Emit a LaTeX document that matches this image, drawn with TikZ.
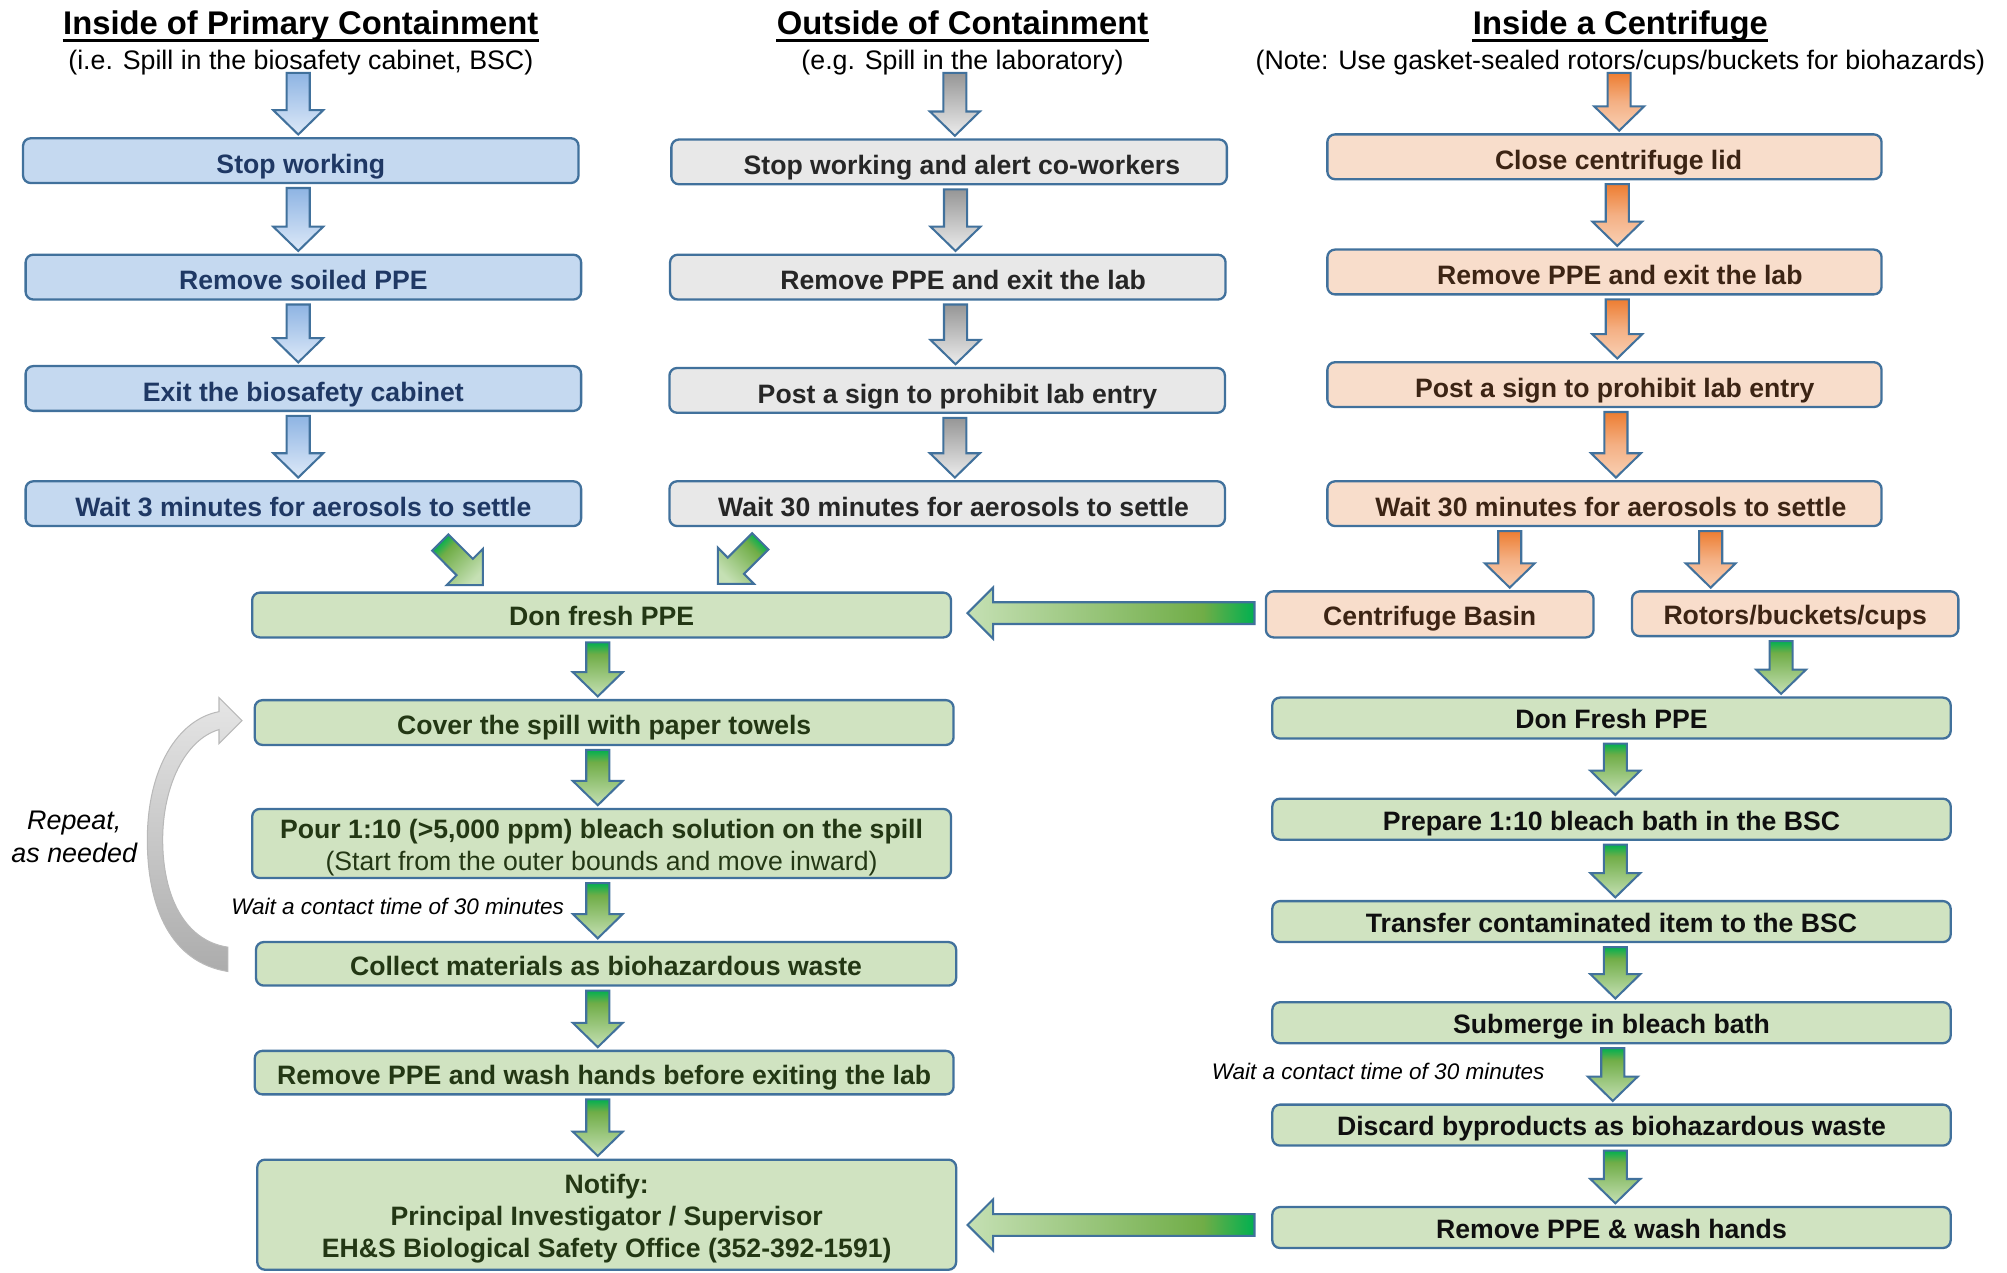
\documentclass[tikz,border=0pt]{standalone}
\usepackage{fontspec}
\setmainfont{Liberation Sans}
\usetikzlibrary{calc}

\definecolor{bord}{RGB}{65,113,156}
\definecolor{bfill}{RGB}{197,217,240}
\definecolor{btext}{RGB}{31,56,100}
\definecolor{gfill}{RGB}{232,232,232}
\definecolor{gtext}{RGB}{38,38,38}
\definecolor{ofill}{RGB}{248,221,203}
\definecolor{otext}{RGB}{60,36,20}
\definecolor{lfill}{RGB}{208,227,193}
\definecolor{ltext}{RGB}{35,55,20}
\definecolor{rtext}{RGB}{15,15,15}
\definecolor{gL}{RGB}{197,224,180}
\definecolor{gM}{RGB}{112,173,71}
\definecolor{gD}{RGB}{0,176,80}
\definecolor{bluetop}{RGB}{142,180,227}
\definecolor{bluebot}{RGB}{221,233,248}
\definecolor{graytop}{RGB}{150,150,150}
\definecolor{graybot}{RGB}{236,236,236}
\definecolor{orgtop}{RGB}{237,125,49}
\definecolor{orgmid}{RGB}{244,176,132}
\definecolor{orgbot}{RGB}{249,208,180}

\pgfdeclareverticalshading{gdown}{100bp}{color(0bp)=(gL); color(25bp)=(gL); color(64bp)=(gM); color(75bp)=(gD); color(100bp)=(gD)}
\pgfdeclarehorizontalshading{gleft}{100bp}{color(0bp)=(gL); color(25bp)=(gL); color(66bp)=(gM); color(75bp)=(gD); color(100bp)=(gD)}

% block arrow pointing down: [x offset]{style}{(source anchor)}{target anchor}
\newcommand\blkdown[4][0]{%
  \coordinate (tS) at ($#3+(#1,3)$);
  \coordinate (tE) at ($(tS|-#4)+(0,-2)$);
  \path[#2] ($(tS)+(-9,0)$) -- ($(tS)+(9,0)$) -- ($(tE)+(9,-19)$) -- ($(tE)+(19.5,-19)$)
    -- (tE) -- ($(tE)+(-19.5,-19)$) -- ($(tE)+(-9,-19)$) -- cycle;}
% block arrow pointing left: {style}{tail coordinate}{tip coordinate}
\newcommand\blkleft[3]{%
  \coordinate (tS) at #2;
  \coordinate (tT) at #3;
  \coordinate (tE) at (tS-|tT);
  \path[#1] ($(tS)+(0,-8.5)$) -- ($(tS)+(0,8.5)$) -- ($(tE)+(20,8.5)$) -- ($(tE)+(20,20)$)
    -- (tE) -- ($(tE)+(20,-20)$) -- ($(tE)+(20,-8.5)$) -- cycle;}

\tikzset{
  x=0.5pt, y=-0.5pt,
  sbox/.style={draw=bord, line width=0.9pt, rounded corners=3pt, inner sep=0pt,
    font=\fontsize{10.4}{12.5}\selectfont\bfseries},
  tl/.style={text height=#1, text depth=0pt},
  sz/.style 2 args={minimum width=#1*0.5pt, minimum height=#2*0.5pt},
  bbox/.style={sbox, tl=10pt, fill=bfill, text=btext},
  gbox/.style={sbox, tl=10pt, fill=gfill, text=gtext},
  obox/.style={sbox, tl=10pt, fill=ofill, text=otext},
  lboxm/.style={sbox, fill=lfill, text=ltext},
  lbox/.style={lboxm, tl=9.5pt},
  rbox/.style={sbox, tl=8.5pt, fill=lfill, text=rtext},
  arrbase/.style={draw=bord, line width=0.8pt, line join=miter},
  blarr/.style={arrbase, top color=bluetop, bottom color=bluebot},
  grarr/.style={arrbase, top color=graytop, bottom color=graybot},
  orarr/.style={arrbase, top color=orgtop, bottom color=orgbot, middle color=orgmid},
  gnarr/.style={arrbase, shade, shading=gdown},
  gharr/.style={arrbase, shade, shading=gleft},
  ttl/.style={inner sep=0pt, font=\fontsize{12.8}{15}\selectfont\bfseries},
  subt/.style={inner sep=0pt, font=\fontsize{10.45}{12.5}\selectfont},
  notetxt/.style={inner sep=0pt, font=\fontsize{8.8}{10.5}\selectfont\itshape},
}

\begin{document}
\begin{tikzpicture}
\useasboundingbox (0,0) rectangle (1568,994);

% titles
\node[ttl, anchor=base] (t1) at (235,27) {Inside of Primary Containment};
\node[ttl, anchor=base] (t2) at (752,27) {Outside of Containment};
\node[ttl, anchor=base] (t3) at (1266,27) {Inside a Centrifuge};
\foreach \t in {t1,t2,t3}
  \draw[line width=1pt] ($(\t.base west)+(0,4.5)$) -- ($(\t.base east)+(0,4.5)$);
\node[subt, anchor=base] (s1) at (235,54) {(i.e. Spill in the biosafety cabinet, BSC)};
\node[subt, anchor=base] (s2) at (752,54) {(e.g. Spill in the laboratory)};
\node[subt, anchor=base] (s3) at (1266,54) {(Note: Use gasket-sealed rotors/cups/buckets for biohazards)};

% column 1
\node[bbox, sz={434}{35}] (b1) at (235,125.5) {Stop working};
\node[bbox, sz={434}{35}] (b2) at (237,216.5) {Remove soiled PPE};
\node[bbox, sz={434}{35}] (b3) at (237,303.5) {Exit the biosafety cabinet};
\node[bbox, sz={434}{35}] (b4) at (237,393.5) {Wait 3 minutes for aerosols to settle};

% column 2
\node[gbox, sz={434}{35}] (g1) at (741.5,126.5) {\hspace*{10pt}Stop working and alert co-workers};
\node[gbox, sz={434}{35}] (g2) at (740.5,216.5) {\hspace*{12pt}Remove PPE and exit the lab};
\node[gbox, sz={434}{35}] (g3) at (740,305) {\hspace*{8pt}Post a sign to prohibit lab entry};
\node[gbox, sz={434}{35}] (g4) at (740,393.5) {\hspace*{5pt}Wait 30 minutes for aerosols to settle};

% column 3
\node[obox, sz={433}{35}] (o1) at (1253.5,122.5) {\hspace*{11pt}Close centrifuge lid};
\node[obox, sz={433}{35}] (o2) at (1253.5,212.5) {\hspace*{12pt}Remove PPE and exit the lab};
\node[obox, sz={433}{35}] (o3) at (1253.5,300.5) {\hspace*{8pt}Post a sign to prohibit lab entry};
\node[obox, sz={433}{35}] (o4) at (1253.5,393.5) {\hspace*{5pt}Wait 30 minutes for aerosols to settle};
\node[obox, tl=8.5pt, sz={256}{36}] (o5) at (1117,480) {Centrifuge Basin};
\node[obox, tl=8.5pt, sz={255}{35}] (o6) at (1402.5,479.5) {Rotors/buckets/cups};

% left green column
\node[lbox, tl=8.5pt, sz={546}{35}] (l1) at (470,480.5) {Don fresh PPE};
\node[lbox, sz={546}{35}] (l2) at (472,564.5) {Cover the spill with paper towels};
\node[lboxm, sz={546}{54}, align=center] (l3) at (470,659) {\rule{0pt}{10.8pt}Pour 1:10 (>5,000 ppm) bleach solution on the spill\\{\mdseries (Start from the outer bounds and move inward)}};
\node[lbox, sz={547}{34}] (l4) at (473.5,753) {Collect materials as biohazardous waste};
\node[lbox, sz={546}{34}] (l5) at (472,838) {Remove PPE and wash hands before exiting the lab};
\node[lboxm, sz={546}{86}, align=center] (l6) at (474,949) {\rule{0pt}{10.6pt}Notify:\\Principal Investigator / Supervisor\\EH\&S Biological Safety Office (352-392-1591)};

% right green column
\node[rbox, sz={530}{32}] (r1) at (1259,561) {Don Fresh PPE};
\node[rbox, sz={530}{32}] (r2) at (1259,640) {Prepare 1:10 bleach bath in the BSC};
\node[rbox, sz={530}{32}] (r3) at (1259,720) {Transfer contaminated item to the BSC};
\node[rbox, sz={530}{32}] (r4) at (1259,799) {Submerge in bleach bath};
\node[rbox, sz={530}{32}] (r5) at (1259,879) {Discard byproducts as biohazardous waste};
\node[rbox, sz={530}{32}] (r6) at (1259,959) {Remove PPE \& wash hands};

% notes
\node[notetxt, anchor=east] (n1) at (441,708) {Wait a contact time of 30 minutes};
\node[notetxt, anchor=east] (n2) at (1207,837) {Wait a contact time of 30 minutes};
\node[inner sep=0pt, font=\fontsize{10.5}{13}\selectfont\itshape, align=center] (rep) at (58,654) {Repeat,\\as needed};

% title arrows
\coordinate (a1) at ($(s1.base)+(-2,0)$);
\coordinate (a2) at ($(s2.base)+(-6,0)$);
\coordinate (a3) at ($(s3.base)+(-1,0)$);
\blkdown{blarr}{(a1)}{b1.north}
\blkdown{grarr}{(a2)}{g1.north}
\blkdown{orarr}{(a3)}{o1.north}

% column arrows
\blkdown[-2]{blarr}{(b1.south)}{b2.north}
\blkdown[-4]{blarr}{(b2.south)}{b3.north}
\blkdown[-4]{blarr}{(b3.south)}{b4.north}
\blkdown[5]{grarr}{(g1.south)}{g2.north}
\blkdown[6]{grarr}{(g2.south)}{g3.north}
\blkdown[6]{grarr}{(g3.south)}{g4.north}
\blkdown[10]{orarr}{(o1.south)}{o2.north}
\blkdown[10]{orarr}{(o2.south)}{o3.north}
\blkdown[9]{orarr}{(o3.south)}{o4.north}
\blkdown[-74]{orarr}{(o4.south)}{o5.north}
\blkdown[83]{orarr}{(o4.south)}{o6.north}
\blkdown[-11]{gnarr}{(o6.south)}{r1.north}

% left green arrows
\blkdown[-3]{gnarr}{(l1.south)}{l2.north}
\blkdown[-5]{gnarr}{(l2.south)}{l3.north}
\blkdown[-3]{gnarr}{(l3.south)}{l4.north}
\blkdown[-6.5]{gnarr}{(l4.south)}{l5.north}
\blkdown[-5]{gnarr}{(l5.south)}{l6.north}

% right green arrows
\blkdown[3]{gnarr}{(r1.south)}{r2.north}
\blkdown[3]{gnarr}{(r2.south)}{r3.north}
\blkdown[3]{gnarr}{(r3.south)}{r4.north}
\blkdown[1]{gnarr}{(r4.south)}{r5.north}
\blkdown[3]{gnarr}{(r5.south)}{r6.north}

% horizontal arrows
\blkleft{gharr}{($(o5.west)+(-8,-1)$)}{($(l1.east)+(12,0)$)}
\blkleft{gharr}{($(r6.west)+(-13,-2)$)}{($(l6.east)+(8,0)$)}

% diagonal arrows into "Don fresh PPE"
\coordinate (d1) at ($(b4.south)+(107,12)$);
\path[arrbase, shade, shading=gdown, shading angle=45]
  ($(d1)+(-6.36,6.36)$) -- ($(d1)+(6.36,-6.36)$) -- ($(d1)+(25.46,12.73)$) -- ($(d1)+(33.23,4.95)$)
  -- ($(d1)+(33.23,33.23)$) -- ($(d1)+(4.95,33.23)$) -- ($(d1)+(12.73,25.46)$) -- cycle;
\coordinate (d2) at ($(g4.south)+(-146,11)$);
\path[arrbase, shade, shading=gdown, shading angle=-45]
  ($(d2)+(6.36,6.36)$) -- ($(d2)+(-6.36,-6.36)$) -- ($(d2)+(-25.46,12.73)$) -- ($(d2)+(-33.23,4.95)$)
  -- ($(d2)+(-33.23,33.23)$) -- ($(d2)+(-4.95,33.23)$) -- ($(d2)+(-12.73,25.46)$) -- cycle;

% curved repeat arrow from "Collect" back to "Cover"
\coordinate (cT) at (l4.west);
\coordinate (cH) at (l2.west);
\path[draw=gray!55, line width=0.4pt, top color=gray!20, bottom color=gray!65]
  ($(cT)+(-21,6)$) .. controls ($(cT)+(-65,-1)$) and ($(cT)+(-84,-43)$) .. ($(cT)+(-84,-97)$)
  .. controls ($(cH)+(-83,35.5)$) and ($(cH)+(-59,-2.5)$) .. ($(cH)+(-27,-8.5)$)
  -- ($(cH)+(-27,-19.5)$) -- ($(cH)+(-9,-1.5)$) -- ($(cH)+(-27,16.5)$) -- ($(cH)+(-27,5.5)$)
  .. controls ($(cH)+(-54,13.5)$) and ($(cH)+(-71,50.5)$) .. ($(cH)+(-71,91.5)$)
  .. controls ($(cT)+(-72,-53)$) and ($(cT)+(-55,-18)$) .. ($(cT)+(-21,-13)$) -- cycle;
\end{tikzpicture}
\end{document}
